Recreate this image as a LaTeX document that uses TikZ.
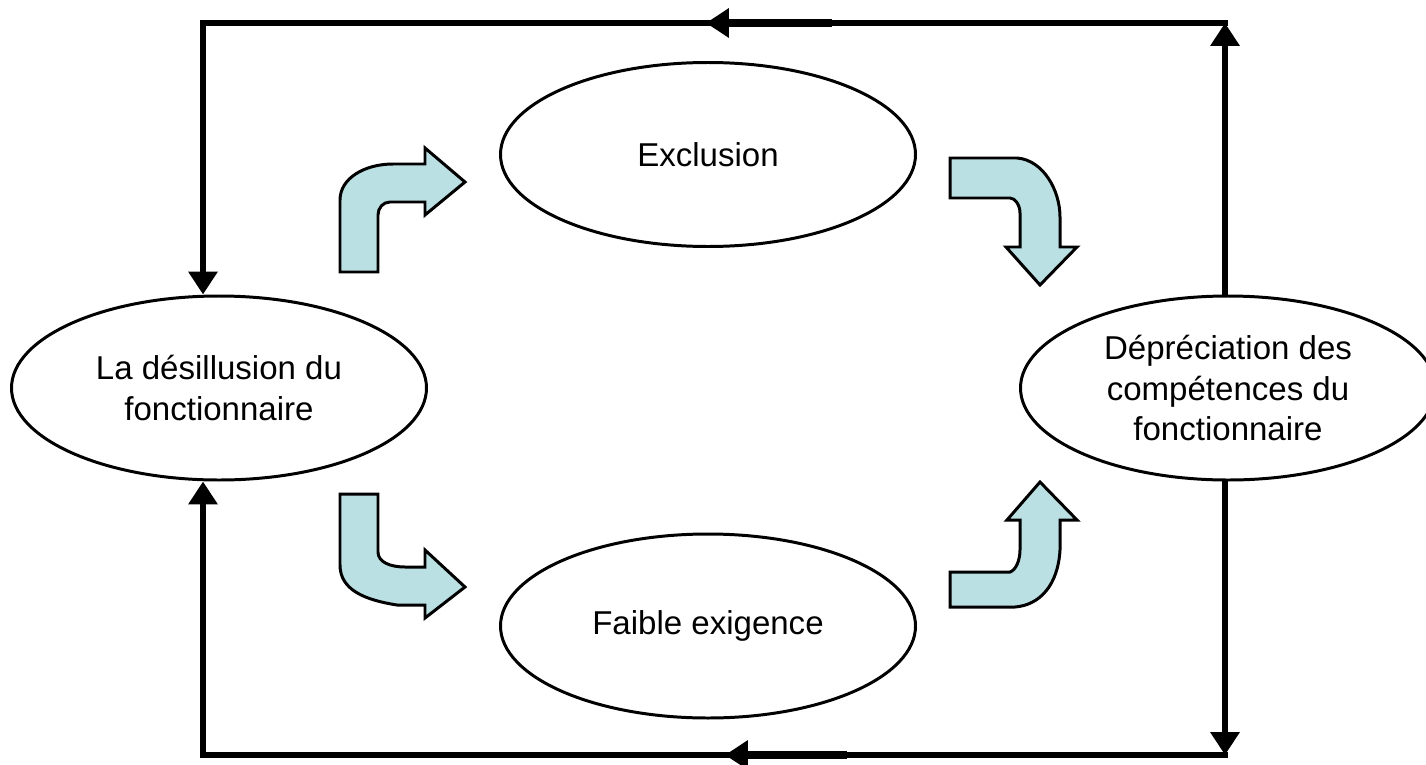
\documentclass[tikz,border=0pt]{standalone}
\usepackage{fontspec}
\setmainfont{Liberation Sans}
\usetikzlibrary{arrows.meta}
\usetikzlibrary{shapes.geometric}
\tikzset{bubble/.style={ellipse, draw, line width=0.85pt, minimum width=4.15cm, minimum height=1.84cm, inner sep=0pt, align=center, font=\fontsize{9.4pt}{11.4pt}\selectfont}}
\tikzset{loopline/.style={line width=1.6pt, line cap=rect, -{Triangle[width=8pt, length=6.5pt]}}}
\tikzset{bendarrow/.style={draw, line width=0.85pt, line join=miter, fill={rgb,255:red,187;green,224;blue,227}}}

\begin{document}
\begin{tikzpicture}
\useasboundingbox (0, 0) rectangle (14.26, -7.65);
\node[bubble] (des) at (2.19, -3.88) {La désillusion du\\fonctionnaire};
\node[bubble] (excl) at (7.08, -1.545) {Exclusion};
\node[bubble] (faib) at (7.08, -6.26) {Faible exigence};
\node[bubble] (dep) at (12.28, -3.88) {Dépréciation des\\compétences du\\fonctionnaire};
\coordinate (tl) at (2.03, -0.23);
\coordinate (tr) at (12.25, -0.23);
\coordinate (bl) at (2.03, -7.55);
\coordinate (br) at (12.25, -7.55);
\coordinate (topstart) at (8.28, -0.23);
\coordinate (topend) at (7.06, -0.23);
\coordinate (botstart) at (8.43, -7.55);
\coordinate (botend) at (7.25, -7.55);
\draw[loopline] (tr |- dep.north) -- (tr);
\draw[loopline] (tr) -- (tl) -- (tl |- des.north);
\draw[loopline] (br |- dep.south) -- (br);
\draw[loopline] (br) -- (bl) -- (bl |- des.south);
\draw[loopline, line width=2pt] (topstart) -- (topend);
\draw[loopline, line width=2pt] (botstart) -- (botend);
\draw[bendarrow] (3.40, -2.72) -- (3.40, -2.00) .. controls (3.40, -1.78) and (3.65, -1.64) .. (3.93, -1.64) -- (4.25, -1.64) -- (4.25, -1.48) -- (4.65, -1.82) -- (4.25, -2.15) -- (4.25, -2.02) -- (3.90, -2.02) .. controls (3.83, -2.02) and (3.78, -2.08) .. (3.78, -2.15) -- (3.78, -2.72) -- cycle;
\draw[bendarrow] (9.50, -1.58) -- (10.17, -1.58) .. controls (10.43, -1.60) and (10.60, -1.90) .. (10.60, -2.17) -- (10.60, -2.47) -- (10.77, -2.47) -- (10.40, -2.85) -- (10.06, -2.47) -- (10.20, -2.47) -- (10.20, -2.13) .. controls (10.20, -2.05) and (10.15, -1.98) .. (10.10, -1.98) -- (9.50, -1.98) -- cycle;
\draw[bendarrow] (3.40, -4.94) -- (3.78, -4.94) -- (3.78, -5.52) .. controls (3.78, -5.62) and (3.90, -5.67) .. (4.05, -5.67) -- (4.25, -5.67) -- (4.25, -5.50) -- (4.65, -5.87) -- (4.25, -6.18) -- (4.25, -6.05) -- (3.97, -6.05) .. controls (3.65, -6.00) and (3.40, -5.90) .. (3.40, -5.65) -- cycle;
\draw[bendarrow] (9.50, -5.72) -- (10.10, -5.72) .. controls (10.16, -5.70) and (10.20, -5.60) .. (10.20, -5.50) -- (10.20, -5.20) -- (10.07, -5.20) -- (10.40, -4.82) -- (10.77, -5.20) -- (10.60, -5.20) -- (10.60, -5.50) .. controls (10.58, -5.85) and (10.40, -6.05) .. (10.15, -6.07) -- (9.50, -6.07) -- cycle;
\end{tikzpicture}
\end{document}
